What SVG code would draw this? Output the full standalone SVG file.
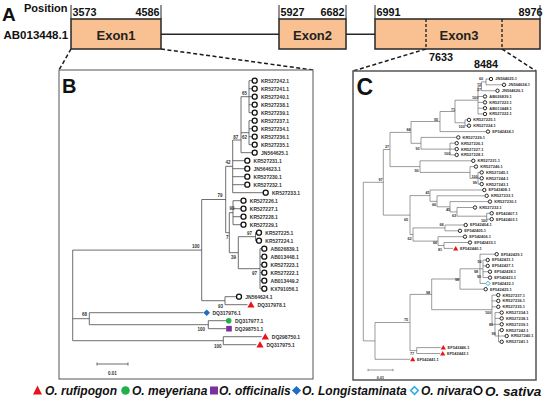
<svg xmlns="http://www.w3.org/2000/svg" width="550" height="401" viewBox="0 0 550 401">
<style>
text{font-family:"Liberation Sans",Arial,sans-serif;font-weight:bold}
.ex{fill:#F9C192;stroke:#262626;stroke-width:1.5}
.tk{stroke:#262626;stroke-width:1;fill:none}
.num{font-size:10.8px;fill:#111}
.exl{font-size:13px;fill:#222;text-anchor:middle}
.dl{stroke:#1a1a1a;stroke-width:1.5;stroke-dasharray:4 2.5;fill:none}
.panel{fill:#fff;stroke:#555}
.br{fill:none;stroke:#4a4a4a;stroke-width:0.8}
.brc{fill:none;stroke:#4a4a4a;stroke-width:0.55}
.lb{font-size:5px;fill:#333}
.lc{font-size:4px;fill:#333}
.bs{font-size:4.5px;fill:#333}
.bsc{font-size:3.8px;fill:#333}
.os{fill:#fff;stroke:#111;stroke-width:1.3}
.osc{fill:#fff;stroke:#111;stroke-width:0.9}
.ru{fill:#E8141B}
.me{fill:#22B04B}
.of{fill:#7B2FA0}
.lo{fill:#1F6EC3}
.ni{fill:#fff;stroke:#2EAEE6}
.lg{font-size:12px;font-style:italic;fill:#111}
</style>

<!-- Panel A -->
<g id="panelA">
  <text x="2" y="21" style="font-size:19px" fill="#111">A</text>
  <text x="24" y="11.5" style="font-size:11px" fill="#111">Position</text>
  <text x="3.5" y="38.5" style="font-size:11.5px" fill="#111">AB013448.1</text>
</g>
<g id="connectors-A">
  <path class="tk" d="M161 34.3H279M346 34.3H375" style="stroke-width:1.6"/>
  <path class="tk" d="M71 5V19M161 5V19M279 5V19M346 5V19M375 5V19M540 5V19"/>
  <path class="dl" d="M71 49L59 70M161 49L313 70M426 49L353 71M502 49L536 71"/>
</g>
<g id="exon1">
  <rect class="ex" x="71" y="19" width="90" height="30"/>
  <text class="exl" x="116" y="39.5">Exon1</text>
  <text class="num" x="72.5" y="15.5">3573</text>
  <text class="num" x="159.5" y="15.5" text-anchor="end">4586</text>
</g>
<g id="exon2">
  <rect class="ex" x="279" y="19" width="67" height="30"/>
  <text class="exl" x="312.5" y="39.5">Exon2</text>
  <text class="num" x="280.5" y="15.5">5927</text>
  <text class="num" x="344.5" y="15.5" text-anchor="end">6682</text>
</g>
<g id="exon3">
  <rect class="ex" x="375" y="19" width="165" height="30"/>
  <path d="M426 19V49M502 19V49" stroke="#1a1a1a" stroke-width="1.3" stroke-dasharray="3 2" fill="none"/>
  <text class="exl" x="459" y="39.5">Exon3</text>
  <text class="num" x="376.5" y="15.5">6991</text>
  <text class="num" x="542.5" y="15.5" text-anchor="end">8976</text>
  <text class="num" x="429" y="61">7633</text>
  <text class="num" x="474" y="67.5">8484</text>
</g>

<!-- Panel B -->
<rect class="panel" x="59" y="70" width="254" height="309" stroke-width="1"/>
<text x="62" y="93" style="font-size:20px" fill="#111">B</text>
<g id="connectors-B">
<path class="br" d="M249 80.7V112.7M249 80.7H252.1M249 88.7H252.1M249 96.7H252.1M249 104.7H252.1M249 112.7H252.1
M249 120.7V144.7M249 120.7H252.1M249 128.7H252.1M249 136.7H252.1M249 144.7H252.1
M241 96.7V152.7M241 96.7H249M241 132.7H249M241 152.7H252.1
M232.7 140V192.7M232.7 140H241M232.7 160.7H244.7M232.7 168.7H244.7M232.7 176.7H244.7M232.7 184.7H244.7M232.7 192.7H263.1
M233 200.7V224.7M233 200.7H240.9M233 208.7H240.9M233 216.7H240.9M233 224.7H240.9
M255.5 232.7V240.7M255.5 232.7H256.4M255.5 240.7H256.4
M260 248.7V288.7M260 248.7H261.7M260 256.7H261.7M260 264.7H261.7M260 272.7H261.7M260 280.7H261.7M260 288.7H261.7
M238.3 236.7V268.7M238.3 236.7H255.5M238.3 268.7H260
M229.3 212.7V252.7M229.3 212.7H233M229.3 252.7H238.3
M225.7 166.3V232.7M225.7 166.3H232.7M225.7 232.7H229.3
M225 296.7V304.7M225 296.7H236.4M225 304.7H247.5
M201.7 199.5V300.7M201.7 199.5H225.7M201.7 300.7H225
M89.3 312.7V324.7M89.3 312.7H203.4M89.3 324.7H208.3
M208.3 320.7V328.7M208.3 320.7H225.9M208.3 328.7H226.2
M223.3 336.7V344.7M223.3 336.7H261.7M223.3 344.7H256.4
M72.7 250.1V340.7M72.7 250.1H201.7M72.7 318.7H89.3M72.7 340.7H223.3"/>
<path class="br" d="M97 364H128M97 362.5V365.5M128 362.5V365.5"/>
</g>
<g id="bootstrap-B" class="bs">
<text x="242" y="94.5">65</text><text x="242" y="139">62</text><text x="233.3" y="138.5">87</text>
<text x="225.5" y="163.5">42</text><text x="217.5" y="197">79</text><text x="229.5" y="210">90</text>
<text x="226" y="238.5">7</text><text x="247" y="235">97</text><text x="231" y="259">39</text>
<text x="252" y="274.5">97</text><text x="192" y="247.5">100</text><text x="218" y="308">93</text>
<text x="82" y="315.5">68</text><text x="197.5" y="330.5">100</text><text x="214" y="348">100</text>
</g>
<text class="bs" x="112.5" y="375" text-anchor="middle">0.01</text>
<g id="leaves-B" class="lb">
<g id="b-KR527242"><circle class="os" cx="254.7" cy="80.7" r="2.5"/><text x="261" y="82.5">KR527242.1</text></g>
<g id="b-KR527241"><circle class="os" cx="254.7" cy="88.7" r="2.5"/><text x="261" y="90.5">KR527241.1</text></g>
<g id="b-KR527240"><circle class="os" cx="254.7" cy="96.7" r="2.5"/><text x="261" y="98.5">KR527240.1</text></g>
<g id="b-KR527238"><circle class="os" cx="254.7" cy="104.7" r="2.5"/><text x="261" y="106.5">KR527238.1</text></g>
<g id="b-KR527239"><circle class="os" cx="254.7" cy="112.7" r="2.5"/><text x="261" y="114.5">KR527239.1</text></g>
<g id="b-KR527237"><circle class="os" cx="254.7" cy="120.7" r="2.5"/><text x="261" y="122.5">KR527237.1</text></g>
<g id="b-KR527234"><circle class="os" cx="254.7" cy="128.7" r="2.5"/><text x="261" y="130.5">KR527234.1</text></g>
<g id="b-KR527236"><circle class="os" cx="254.7" cy="136.7" r="2.5"/><text x="261" y="138.5">KR527236.1</text></g>
<g id="b-KR527235"><circle class="os" cx="254.7" cy="144.7" r="2.5"/><text x="261" y="146.5">KR527235.1</text></g>
<g id="b-JN564625"><circle class="os" cx="254.7" cy="152.7" r="2.5"/><text x="261" y="154.5">JN564625.1</text></g>
<g id="b-KR527231"><circle class="os" cx="247.3" cy="160.7" r="2.5"/><text x="253.6" y="162.5">KR527231.1</text></g>
<g id="b-JN564623"><circle class="os" cx="247.3" cy="168.7" r="2.5"/><text x="253.6" y="170.5">JN564623.1</text></g>
<g id="b-KR527230"><circle class="os" cx="247.3" cy="176.7" r="2.5"/><text x="253.6" y="178.5">KR527230.1</text></g>
<g id="b-KR527232"><circle class="os" cx="247.3" cy="184.7" r="2.5"/><text x="253.6" y="186.5">KR527232.1</text></g>
<g id="b-KR527233"><circle class="os" cx="265.7" cy="192.7" r="2.5"/><text x="272" y="194.5">KR527233.1</text></g>
<g id="b-KR527226"><circle class="os" cx="243.5" cy="200.7" r="2.5"/><text x="249.8" y="202.5">KR527226.1</text></g>
<g id="b-KR527227"><circle class="os" cx="243.5" cy="208.7" r="2.5"/><text x="249.8" y="210.5">KR527227.1</text></g>
<g id="b-KR527228"><circle class="os" cx="243.5" cy="216.7" r="2.5"/><text x="249.8" y="218.5">KR527228.1</text></g>
<g id="b-KR527229"><circle class="os" cx="243.5" cy="224.7" r="2.5"/><text x="249.8" y="226.5">KR527229.1</text></g>
<g id="b-KR527225"><circle class="os" cx="259" cy="232.7" r="2.5"/><text x="265.3" y="234.5">KR527225.1</text></g>
<g id="b-KR527224"><circle class="os" cx="259" cy="240.7" r="2.5"/><text x="265.3" y="242.5">KR527224.1</text></g>
<g id="b-AB026839"><circle class="os" cx="264.3" cy="248.7" r="2.5"/><text x="270.6" y="250.5">AB026839.1</text></g>
<g id="b-AB013448"><circle class="os" cx="264.3" cy="256.7" r="2.5"/><text x="270.6" y="258.5">AB013448.1</text></g>
<g id="b-KR527223"><circle class="os" cx="264.3" cy="264.7" r="2.5"/><text x="270.6" y="266.5">KR527223.1</text></g>
<g id="b-KR527222"><circle class="os" cx="264.3" cy="272.7" r="2.5"/><text x="270.6" y="274.5">KR527222.1</text></g>
<g id="b-AB013449"><circle class="os" cx="264.3" cy="280.7" r="2.5"/><text x="270.6" y="282.5">AB013449.2</text></g>
<g id="b-KX791056"><circle class="os" cx="264.3" cy="288.7" r="2.5"/><text x="270.6" y="290.5">KX791056.1</text></g>
<g id="b-JN564624"><circle class="os" cx="239" cy="296.7" r="2.5"/><text x="245.3" y="298.5">JN564624.1</text></g>
<g id="b-DQ317978"><polygon class="ru" points="251,301.2 254.6,307.5 247.4,307.5"/><text x="257.5" y="306.5">DQ317978.1</text></g>
<g id="b-DQ317976"><polygon class="lo" points="206.7,309.4 210,312.7 206.7,316 203.4,312.7"/><text x="212.5" y="314.5">DQ317976.1</text></g>
<g id="b-DQ317977"><circle class="me" cx="228.7" cy="320.7" r="2.8"/><text x="235" y="322.5">DQ317977.1</text></g>
<g id="b-DQ298751"><rect class="of" x="226.2" y="325.9" width="5.6" height="5.6"/><text x="235" y="330.5">DQ298751.1</text></g>
<g id="b-DQ298750"><polygon class="ru" points="265.3,333.2 268.9,339.5 261.7,339.5"/><text x="271.8" y="338.5">DQ298750.1</text></g>
<g id="b-DQ317975"><polygon class="ru" points="260,341.2 263.6,347.5 256.4,347.5"/><text x="266.5" y="346.5">DQ317975.1</text></g>
</g>

<!-- Panel C -->
<rect class="panel" x="353" y="71" width="183" height="309" stroke-width="1.5"/>
<text x="356.5" y="95" style="font-size:23px" fill="#111">C</text>
<g id="connectors-C">
<path class="brc" d="M486 79V84.8M486 79H489.2M486 84.8H502.2
M481.5 81.9V90.7M481.5 81.9H486M481.5 90.7H495.7
M478 86.3V114M478 86.3H481.5M478 96.5H483.2M478 102.4H483.2M478 108.2H483.2M478 114H483.2
M465 119.9V125.7M465 119.9H467.2M465 125.7H467.2
M455 100.2V122.8M455 100.2H478M455 122.8H465
M440 111.5V131.6M440 111.5H455M440 131.6H486.2
M450 143.2V154.9M450 143.2H454.9M450 149.1H454.9M450 154.9H454.9
M421 137.4V149.1M421 137.4H456.5M421 149.1H450
M411 121.5V143.3M411 121.5H440M411 143.3H421
M478 172.4V184.1M478 172.4H479.9M478 178.3H479.9M478 184.1H479.9
M470 166.6V178.3M470 166.6H474.2M470 178.3H478
M420 160.8V172.4M420 160.8H471.5M420 172.4H470
M390 132.4V166.6M390 132.4H411M390 166.6H420
M486.7 213.3V219.2M486.7 213.3H489.9M486.7 219.2H489.9
M457 207.5V216.2M457 207.5H473.2M457 216.2H486.7
M450 201.6V211.9M450 201.6H488.2M450 211.9H457
M437 195.8V206.8M437 195.8H484.9M437 206.8H450
M430 190V201.3M430 190H482.5M430 201.3H437
M445 225V230.8M445 225H463.9M445 230.8H458.2
M444 242.5V248.4M444 242.5H468.2M444 248.4H453.1
M438 236.7V245.5M438 236.7H463.2M438 245.5H444
M413 227.9V241.1M413 227.9H445M413 241.1H438
M410 195.6V234.5M410 195.6H430M410 234.5H413
M383.3 149.5V215.1M383.3 149.5H390M383.3 215.1H410
M483 260V277.6M483 260H485.9M483 265.9H485.9M483 271.7H488.2M483 277.6H488.2
M480 254.2V283.4M480 254.2H494.9M480 268.8H483M480 283.4H485.8
M460 268.8V289.2M460 268.8H480M460 289.2H483.9
M498.5 330.1V341.8M498.5 330.1H499.9M498.5 336H504.9M498.5 341.8H499.9
M495 312.6V336M495 312.6H499.9M495 318.4H499.9M495 324.3H499.9M495 336H498.5
M492 295.1V324.3M492 295.1H496.5M492 300.9H496.5M492 306.8H496.5M492 324.3H495
M431.7 279V309.7M431.7 279H460M431.7 309.7H492
M416.7 347.6V353.5M416.7 347.6H440.7M416.7 353.5H440.1
M410 294.4V350.6M410 294.4H431.7M410 350.6H416.7
M375 322.5V359.3M375 322.5H410M375 359.3H410.1
M363.3 182.3V340.9M363.3 182.3H383.3M363.3 340.9H375"/>
<path class="brc" d="M368 370H393M368 368.8V371.2M393 368.8V371.2"/>
</g>
<g id="bootstrap-C" class="bsc">
<text x="479" y="80.3">60</text><text x="477" y="85.5">72</text><text x="477" y="91">27</text>
<text x="472" y="99">100</text><text x="451" y="111">71</text><text x="458.5" y="128">100</text>
<text x="434" y="120.5">95</text><text x="406.5" y="131">84</text><text x="415.5" y="149.5">93</text>
<text x="444" y="154.5">100</text><text x="385" y="147.5">27</text><text x="414.5" y="172">90</text>
<text x="471.5" y="177.5">100</text><text x="472.7" y="183.5">99</text><text x="378.5" y="180.5">97</text>
<text x="425.5" y="193.5">41</text><text x="432" y="206">66</text><text x="446" y="211">45</text>
<text x="452" y="216.5">63</text><text x="481" y="222">100</text><text x="404" y="221">65</text>
<text x="439.5" y="225.5">68</text><text x="407.5" y="239.5">62</text><text x="433" y="244">66</text>
<text x="438" y="251">81</text><text x="477.5" y="262.5">56</text><text x="474" y="272.5">98</text>
<text x="477" y="278">95</text><text x="455" y="280.5">98</text><text x="426" y="293.5">98</text>
<text x="485" y="313.5">100</text><text x="489" y="325.5">86</text><text x="491.5" y="335">99</text>
<text x="404" y="321">75</text><text x="410" y="355">77</text>
</g>
<text class="bsc" x="380.5" y="378.5" text-anchor="middle">0.01</text>
<g id="leaves-C" class="lc">
<g id="c-JN564625"><circle class="osc" cx="491" cy="79" r="1.7"/><text x="495.3" y="80.4">JN564625.1</text></g>
<g id="c-JN564624"><circle class="osc" cx="504" cy="84.8" r="1.7"/><text x="508.3" y="86.2">JN564624.1</text></g>
<g id="c-JN564626"><circle class="osc" cx="497.5" cy="90.7" r="1.7"/><text x="501.8" y="92.1">JN564626.1</text></g>
<g id="c-AB026839"><circle class="osc" cx="485" cy="96.5" r="1.7"/><text x="489.3" y="97.9">AB026839.1</text></g>
<g id="c-KR527223"><circle class="osc" cx="485" cy="102.4" r="1.7"/><text x="489.3" y="103.8">KR527223.1</text></g>
<g id="c-AB013448"><circle class="osc" cx="485" cy="108.2" r="1.7"/><text x="489.3" y="109.6">AB013448.1</text></g>
<g id="c-KR527222"><circle class="osc" cx="485" cy="114" r="1.7"/><text x="489.3" y="115.4">KR527222.1</text></g>
<g id="c-KR527225"><circle class="osc" cx="469" cy="119.9" r="1.7"/><text x="473.3" y="121.3">KR527225.1</text></g>
<g id="c-KR527224"><circle class="osc" cx="469" cy="125.7" r="1.7"/><text x="473.3" y="127.1">KR527224.1</text></g>
<g id="c-EF542424"><circle class="osc" cx="488" cy="131.6" r="1.7"/><text x="492.3" y="133">EF542424.1</text></g>
<g id="c-KR527229"><circle class="osc" cx="458.3" cy="137.4" r="1.7"/><text x="462.6" y="138.8">KR527229.1</text></g>
<g id="c-KR527226"><circle class="osc" cx="456.7" cy="143.2" r="1.7"/><text x="461" y="144.6">KR527226.1</text></g>
<g id="c-KR527227"><circle class="osc" cx="456.7" cy="149.1" r="1.7"/><text x="461" y="150.5">KR527227.1</text></g>
<g id="c-KR527228"><circle class="osc" cx="456.7" cy="154.9" r="1.7"/><text x="461" y="156.3">KR527228.1</text></g>
<g id="c-KR527231"><circle class="osc" cx="473.3" cy="160.8" r="1.7"/><text x="477.6" y="162.2">KR527231.1</text></g>
<g id="c-KR527246"><circle class="osc" cx="476" cy="166.6" r="1.7"/><text x="480.3" y="168">KR527246.1</text></g>
<g id="c-KR527245"><circle class="osc" cx="481.7" cy="172.4" r="1.7"/><text x="486" y="173.8">KR527245.1</text></g>
<g id="c-KR527244"><circle class="osc" cx="481.7" cy="178.3" r="1.7"/><text x="486" y="179.7">KR527244.1</text></g>
<g id="c-KR527243"><circle class="osc" cx="481.7" cy="184.1" r="1.7"/><text x="486" y="185.5">KR527243.1</text></g>
<g id="c-EF542408"><circle class="osc" cx="484.3" cy="190" r="1.7"/><text x="488.6" y="191.4">EF542408.1</text></g>
<g id="c-KR527233"><circle class="osc" cx="486.7" cy="195.8" r="1.7"/><text x="491" y="197.2">KR527233.1</text></g>
<g id="c-KR527230"><circle class="osc" cx="490" cy="201.6" r="1.7"/><text x="494.3" y="203">KR527230.1</text></g>
<g id="c-KR527232"><circle class="osc" cx="475" cy="207.5" r="1.7"/><text x="479.3" y="208.9">KR527232.1</text></g>
<g id="c-EF542407"><circle class="osc" cx="491.7" cy="213.3" r="1.7"/><text x="496" y="214.7">EF542407.1</text></g>
<g id="c-EF542403"><circle class="osc" cx="491.7" cy="219.2" r="1.7"/><text x="496" y="220.6">EF542403.1</text></g>
<g id="c-EF542404"><circle class="osc" cx="465.7" cy="225" r="1.7"/><text x="470" y="226.4">EF542404.1</text></g>
<g id="c-EF542405"><circle class="osc" cx="460" cy="230.8" r="1.7"/><text x="464.3" y="232.2">EF542405.1</text></g>
<g id="c-EF542406"><circle class="osc" cx="465" cy="236.7" r="1.7"/><text x="469.3" y="238.1">EF542406.1</text></g>
<g id="c-EF542433"><circle class="osc" cx="470" cy="242.5" r="1.7"/><text x="474.3" y="243.9">EF542433.1</text></g>
<g id="c-EF542440"><polygon class="ru" points="455.7,245.9 458.3,250.4 453.1,250.4"/><text x="460" y="249.8">EF542440.1</text></g>
<g id="c-EF542429"><circle class="osc" cx="496.7" cy="254.2" r="1.7"/><text x="501" y="255.6">EF542429.1</text></g>
<g id="c-EF542431"><circle class="osc" cx="487.7" cy="260" r="1.7"/><text x="492" y="261.4">EF542431.1</text></g>
<g id="c-EF542427"><circle class="osc" cx="487.7" cy="265.9" r="1.7"/><text x="492" y="267.3">EF542427.1</text></g>
<g id="c-EF542428"><circle class="osc" cx="490" cy="271.7" r="1.7"/><text x="494.3" y="273.1">EF542428.1</text></g>
<g id="c-EF542423"><circle class="osc" cx="490" cy="277.6" r="1.7"/><text x="494.3" y="279">EF542423.1</text></g>
<g id="c-EF542422"><polygon class="ni" stroke-width="1" points="488,281.2 490.2,283.4 488,285.6 485.8,283.4"/><text x="492.3" y="284.8">EF542422.1</text></g>
<g id="c-EF542425"><circle class="osc" cx="485.7" cy="289.2" r="1.7"/><text x="490" y="290.6">EF542425.1</text></g>
<g id="c-KR527237"><circle class="osc" cx="498.3" cy="295.1" r="1.7"/><text x="502.6" y="296.5">KR527237.1</text></g>
<g id="c-KR527236"><circle class="osc" cx="498.3" cy="300.9" r="1.7"/><text x="502.6" y="302.3">KR527236.1</text></g>
<g id="c-KR527235"><circle class="osc" cx="498.3" cy="306.8" r="1.7"/><text x="502.6" y="308.2">KR527235.1</text></g>
<g id="c-KR527234"><circle class="osc" cx="501.7" cy="312.6" r="1.7"/><text x="506" y="314">KR527234.1</text></g>
<g id="c-KR527238"><circle class="osc" cx="501.7" cy="318.4" r="1.7"/><text x="506" y="319.8">KR527238.1</text></g>
<g id="c-KR527239"><circle class="osc" cx="501.7" cy="324.3" r="1.7"/><text x="506" y="325.7">KR527239.1</text></g>
<g id="c-KR527242"><circle class="osc" cx="501.7" cy="330.1" r="1.7"/><text x="506" y="331.5">KR527242.1</text></g>
<g id="c-KR527240"><circle class="osc" cx="506.7" cy="336" r="1.7"/><text x="511" y="337.4">KR527240.1</text></g>
<g id="c-KR527241"><circle class="osc" cx="501.7" cy="341.8" r="1.7"/><text x="506" y="343.2">KR527241.1</text></g>
<g id="c-EF542446"><polygon class="ru" points="443.3,345.1 445.9,349.6 440.7,349.6"/><text x="447.6" y="349">EF542446.1</text></g>
<g id="c-EF542442"><polygon class="ru" points="442.7,351 445.3,355.5 440.1,355.5"/><text x="447" y="354.9">EF542442.1</text></g>
<g id="c-EF542441"><polygon class="ru" points="412.7,356.8 415.3,361.3 410.1,361.3"/><text x="417" y="360.7">EF542441.1</text></g>
</g>

<!-- Legend -->
<g id="legend">
  <polygon class="ru" points="37.5,385.5 42,394.5 33,394.5"/>
  <text class="lg" x="45" y="395">O. rufipogon</text>
  <circle class="me" cx="125.5" cy="390.5" r="4.3"/>
  <text class="lg" x="132" y="395">O. meyeriana</text>
  <rect class="of" x="210" y="386.5" width="8" height="8"/>
  <text class="lg" x="219" y="395">O. officinalis</text>
  <polygon class="lo" points="296.5,385.9 301.1,390.5 296.5,395.1 291.9,390.5"/>
  <text class="lg" x="302" y="395">O. Longistaminata</text>
  <polygon class="ni" stroke-width="1.6" points="414.5,386.7 418.3,390.5 414.5,394.3 410.7,390.5"/>
  <text class="lg" x="421" y="395">O. nivara</text>
  <circle cx="478" cy="390.5" r="3.8" fill="#fff" stroke="#111" stroke-width="1.8"/>
  <text class="lg" x="485" y="395.5" style="font-size:13.5px">O. sativa</text>
</g>
</svg>
